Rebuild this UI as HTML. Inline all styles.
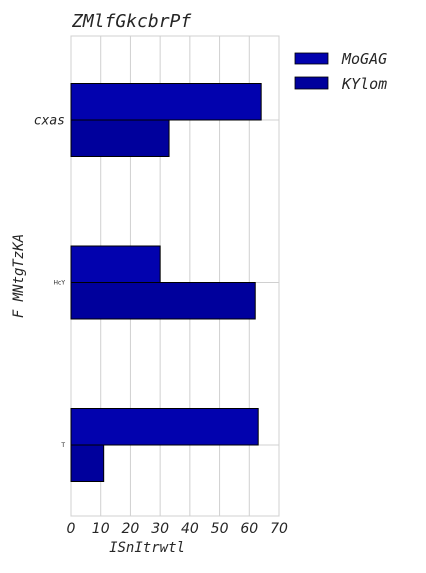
<!DOCTYPE html>
<html><head><meta charset="utf-8"><style>
body{margin:0;background:#fff;}
svg text{font-family:"DejaVu Sans Mono","Liberation Mono",monospace;font-style:italic;fill:#262626;}
svg text.sans{font-family:"DejaVu Sans","Liberation Sans",sans-serif;}
</style></head><body>
<svg width="426" height="568" xmlns="http://www.w3.org/2000/svg">
<g id="grid"></g>
<g id="bars"></g>
<g id="axes"></g>
<text x="72" y="27" font-size="18">ZMlfGkcbrPf</text>
<text x="147" y="552" font-size="14" text-anchor="middle">ISnItrwtl</text>
<text transform="translate(23,276) rotate(-90)" font-size="14" text-anchor="middle">F MNtgTzKA</text>
<g>
<rect x="295" y="53" width="33" height="11" fill="#0202ae" stroke="#000" stroke-width="0.8"/>
<text x="342" y="64" font-size="15">MoGAG</text>
<rect x="295" y="77" width="33" height="12" fill="#00009c" stroke="#000" stroke-width="0.8"/>
<text x="342" y="89" font-size="15">KYlom</text>
</g>
</svg>
<script>
const categories=["cxas","HcY","T"];
const catFont=[13,6,6];
const seriesA=[64,30,63];
const seriesB=[33,62,11];
const xTicks=[0,10,20,30,40,50,60,70];
const NS="http://www.w3.org/2000/svg";
const L=71,R=279,T=36,B=516,XMAX=70;
const x=v=>L+(R-L)*v/XMAX;
const band=162.5;
const yc=i=>120+band*i;
const bh=36.5;
function mk(tag,attrs,parent){const e=document.createElementNS(NS,tag);for(const k in attrs)e.setAttribute(k,attrs[k]);document.getElementById(parent).appendChild(e);return e;}
xTicks.forEach(t=>{
 const l=mk('line',{x1:x(t),x2:x(t),y1:T,y2:B,stroke:'#d0d0d0','stroke-width':1},'grid');
 
 
 const tx=mk('text',{x:x(t),y:B+17,'font-size':14,'text-anchor':'middle',class:'sans'},'axes');
 tx.textContent=t;
 
 
});
categories.forEach((c,i)=>{
 const g=mk('line',{x1:L,x2:R,y1:yc(i),y2:yc(i),stroke:'#d0d0d0','stroke-width':1},'grid');
 
 
 const a=mk('rect',{x:L,y:yc(i)-bh,width:x(seriesA[i])-L,height:bh,fill:'#0202ae',stroke:'#000','stroke-width':1},'bars');
 
 
 const b=mk('rect',{x:L,y:yc(i),width:x(seriesB[i])-L,height:bh,fill:'#00009c',stroke:'#000','stroke-width':1},'bars');
 
 
 const tx=mk('text',{x:L-6,y:yc(i)+catFont[i]*0.35,'font-size':catFont[i],'text-anchor':'end'},'axes');
 if(catFont[i]<10){tx.setAttribute('class','sans');tx.setAttribute('font-style','normal');tx.setAttribute('style','font-style:normal');}
 tx.textContent=c;
 
 
});
const f=mk('rect',{x:L,y:T,width:R-L,height:B-T,fill:'none',stroke:'#d0d0d0','stroke-width':1},'grid');


</script>
</body></html>
